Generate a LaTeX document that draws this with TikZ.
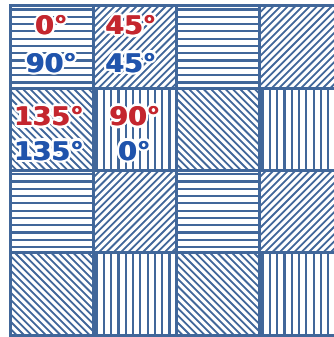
\documentclass[tikz,border=0pt]{standalone}
\usepackage{fontspec}
\newfontfamily\degfont[FakeStretch=1.05]{DejaVu Sans Bold}
\usetikzlibrary{calc}

\definecolor{gridblue}{RGB}{65,103,154}
\definecolor{degred}{RGB}{196,38,46}
\definecolor{degblue}{RGB}{32,84,172}

\tikzset{
  hatch/.style={gridblue, line width=2.2pt},
  cellrule/.style={gridblue, line width=3pt, line cap=rect},
  deg/.style={inner sep=0pt, anchor=base, font=\degfont\fontsize{25.5}{25.5}\selectfont},
}

% white halo first, then the coloured text (drawn twice for weight)
\newcommand\degnode[5]{%
  \foreach \a in {0,30,...,330}
    \node[deg, text=white] at ($(#2,#3)+(\a:2.8)$) {#5};
  \node[deg, text=#4] at ($(#2,#3)+(-0.5,0)$) {#5};
  \node[deg, text=#4] (#1) at ($(#2,#3)+(0.5,0)$) {#5};
}

\begin{document}
\begin{tikzpicture}[x=1pt, y=-1pt]
  \useasboundingbox (0,0) rectangle (333,337);

  % Hatching: 0 = horizontal, 1 = 45, 2 = 135, 3 = vertical
  \foreach \row in {0,...,3}
    \foreach \col in {0,...,3}{
      \pgfmathsetmacro\xa{10+83*\col}
      \pgfmathsetmacro\ya{6+82.3*\row}
      \pgfmathtruncatemacro\kind{2*mod(\row,2)+mod(\col,2)}
      \begin{scope}
        \clip (\xa,\ya) rectangle ++(83,82.3);
        \ifcase\kind
          \foreach \h in {0,...,11}
            \draw[hatch] (\xa,\ya+3.5+7.3*\h) -- ++(83,0);
        \or
          \foreach \h in {0,...,24}
            \draw[hatch, line width=1.8pt] (\xa+7.3*\h,\ya) -- ++(-90,90);
        \or
          \foreach \h in {0,...,24}
            \draw[hatch, line width=1.8pt] (\xa-90+7.3*\h,\ya) -- ++(90,90);
        \or
          \foreach \h in {0,...,11}
            \draw[hatch] (\xa+3.5+7.3*\h,\ya) -- ++(0,82.3);
        \fi
      \end{scope}
    }

  % Grid
  \foreach \i in {0,...,4}{
    \draw[cellrule] (10+83*\i,6) -- (10+83*\i,335.2);
    \draw[cellrule] (10,6+82.3*\i) -- (342,6+82.3*\i);
  }

  % Angles
  \degnode{redA}{51.5}{34.5}{degred}{0°}
  \degnode{blueA}{51.5}{72}{degblue}{90°}
  \degnode{redB}{131}{34.5}{degred}{45°}
  \degnode{blueB}{131}{72}{degblue}{45°}
  \degnode{redC}{49}{125.5}{degred}{135°}
  \degnode{blueC}{49}{160}{degblue}{135°}
  \degnode{redD}{135}{125.5}{degred}{90°}
  \degnode{blueD}{134.5}{160}{degblue}{0°}
\end{tikzpicture}
\end{document}
